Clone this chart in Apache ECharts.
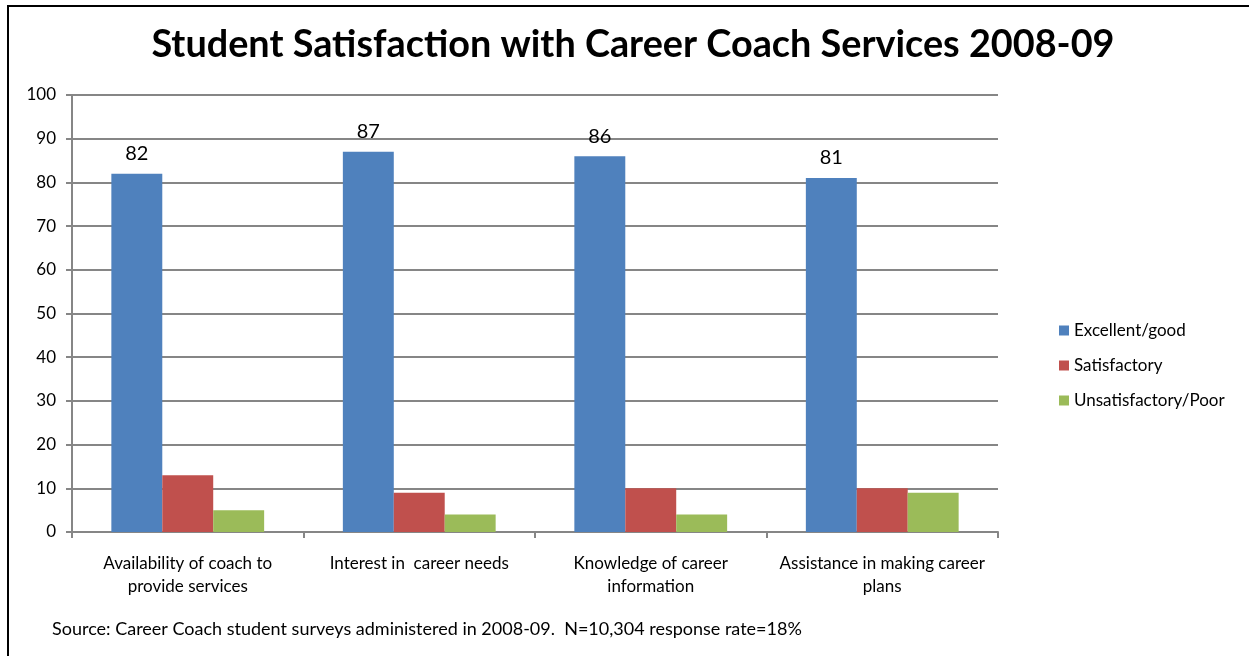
<!DOCTYPE html>
<html>
<head>
<meta charset="utf-8">
<script src="https://cdn.jsdelivr.net/npm/echarts@6/dist/echarts.min.js"></script>
<style>
  html, body { margin: 0; padding: 0; background: #fff; }
  #chart { width: 1249px; height: 656px; }
</style>
</head>
<body>
<div id="chart"></div>
<script>
const categories = [
  'Availability of coach to\nprovide services',
  'Interest in  career needs',
  'Knowledge of career\ninformation',
  'Assistance in making career\nplans'
];
const seriesNames = ['Excellent/good', 'Satisfactory', 'Unsatisfactory/Poor'];
const excellentGood = [82, 87, 86, 81];
const satisfactory = [13, 9, 10, 10];
const unsatisfactoryPoor = [5, 4, 4, 9];
const colors = ['#4F81BD', '#C0504D', '#9BBB59'];

const FONT = 'Lato, "Open Sans", sans-serif';

const chart = echarts.init(document.getElementById('chart'));
chart.setOption({
  animation: false,
  backgroundColor: '#ffffff',
  textStyle: { fontFamily: FONT },
  title: {
    text: 'Student Satisfaction with Career Coach Services 2008-09',
    left: 628,
    textAlign: 'center',
    top: 21,
    textStyle: { fontSize: 37.8, fontWeight: 'bold', color: '#000', fontFamily: FONT }
  },
  legend: {
    orient: 'vertical',
    left: 1054,
    top: 317,
    itemWidth: 10,
    itemHeight: 10,
    itemGap: 18,
    icon: 'rect',
    data: seriesNames,
    textStyle: { fontSize: 17, color: '#000', fontFamily: FONT }
  },
  grid: { left: 72, right: 251, top: 95, bottom: 124 },
  xAxis: {
    type: 'category',
    data: categories,
    axisLine: { lineStyle: { color: '#868686', width: 2 } },
    axisTick: { show: true, alignWithLabel: false, length: 6, lineStyle: { color: '#868686', width: 2 } },
    axisLabel: { fontSize: 17, color: '#000', lineHeight: 23, margin: 20, interval: 0, fontFamily: FONT }
  },
  yAxis: {
    type: 'value',
    min: 0,
    max: 100,
    interval: 10,
    axisLine: { show: true, lineStyle: { color: '#868686', width: 2 } },
    axisTick: { show: true, length: 6, lineStyle: { color: '#868686', width: 2 } },
    splitLine: { lineStyle: { color: '#868686', width: 2 } },
    axisLabel: { fontSize: 17, color: '#000', margin: 16, fontFamily: FONT }
  },
  series: [
    {
      name: seriesNames[0], type: 'bar', data: excellentGood,
      itemStyle: { color: colors[0] },
      barGap: '0%', barCategoryGap: '34%',
      label: { show: true, position: 'top', distance: 10, fontSize: 20, color: '#000', fontFamily: FONT }
    },
    {
      name: seriesNames[1], type: 'bar', data: satisfactory,
      itemStyle: { color: colors[1] },
      barGap: '0%', barCategoryGap: '34%'
    },
    {
      name: seriesNames[2], type: 'bar', data: unsatisfactoryPoor,
      itemStyle: { color: colors[2] },
      barGap: '0%', barCategoryGap: '34%'
    }
  ],
  graphic: [
    {
      type: 'rect',
      shape: { x: 8, y: 6, width: 1260, height: 680 },
      style: { fill: null, stroke: '#000', lineWidth: 2 },
      silent: true
    },
    {
      type: 'text',
      left: 52,
      top: 620,
      style: {
        text: 'Source: Career Coach student surveys administered in 2008-09.  N=10,304 response rate=18%',
        fontSize: 18,
        fill: '#000',
        fontFamily: FONT
      }
    }
  ]
});
</script>
</body>
</html>
